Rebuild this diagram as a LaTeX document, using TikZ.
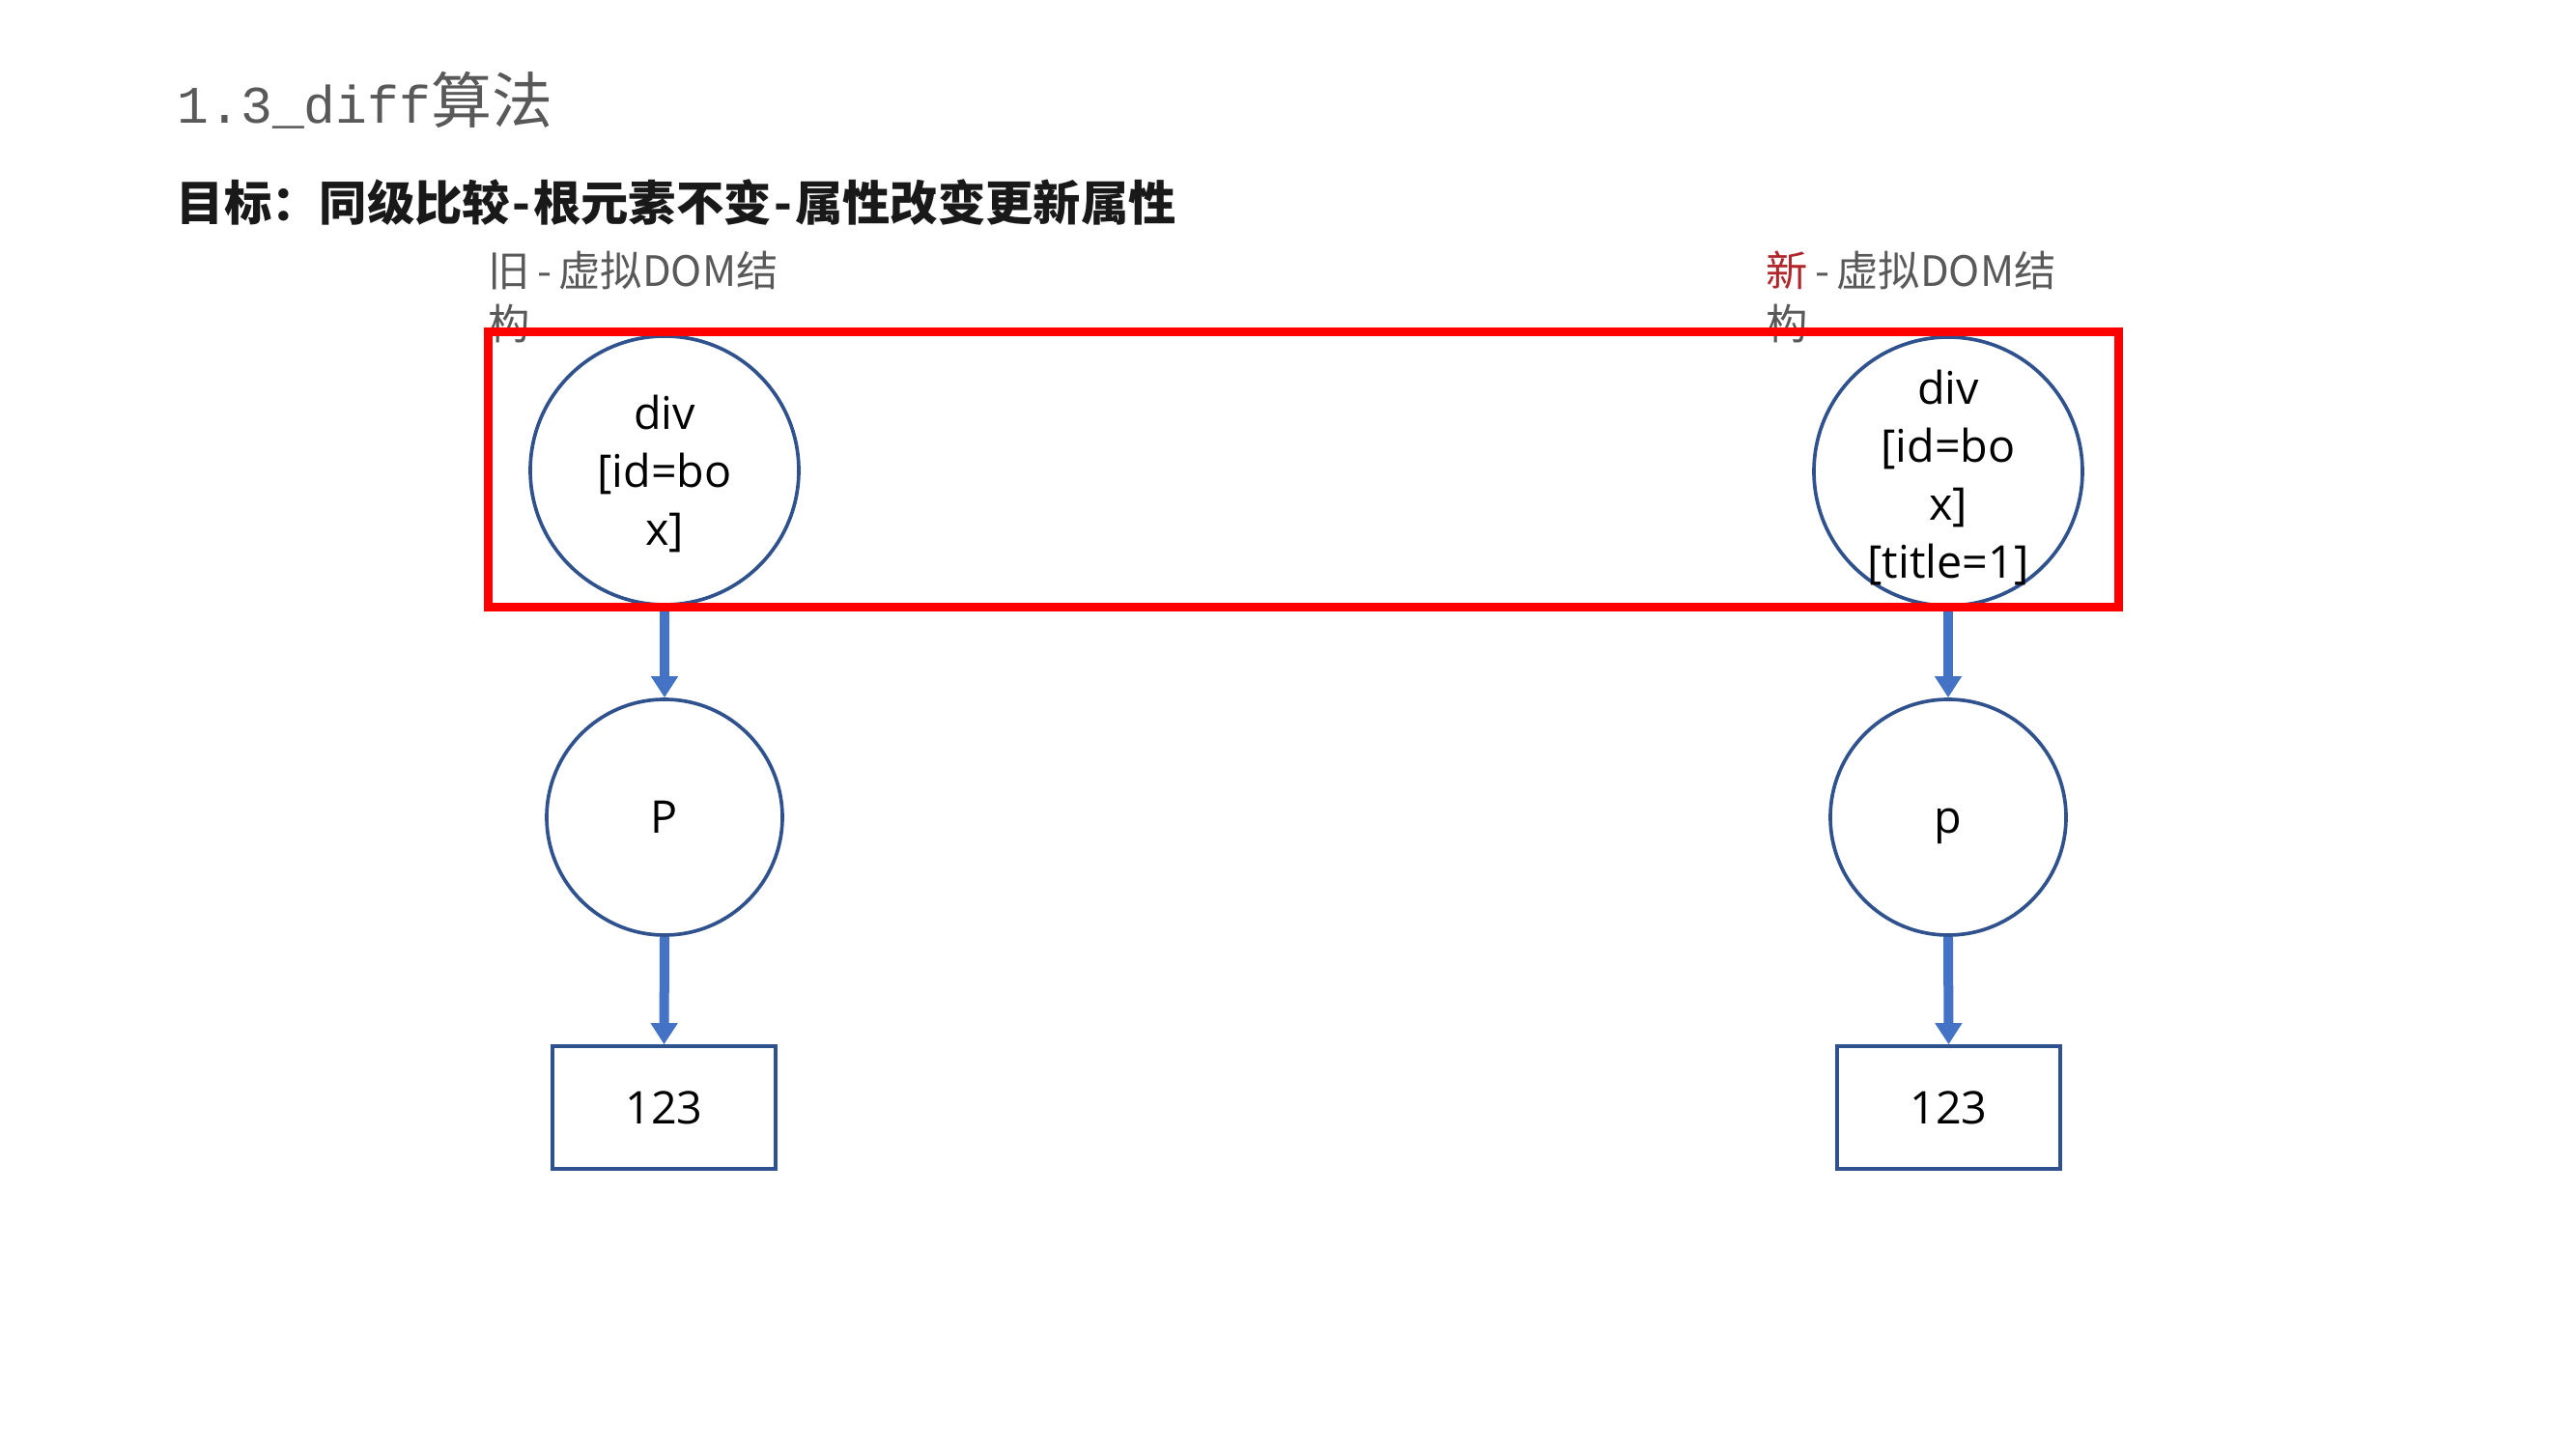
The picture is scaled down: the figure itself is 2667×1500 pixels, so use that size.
\documentclass[tikz,border=0pt]{standalone}
\usepackage{fontspec}
\usetikzlibrary{arrows.meta}
\newfontfamily\cjk{Noto Sans CJK SC}
\newfontfamily\latf{Open Sans}
\newfontfamily\monof{Liberation Mono}
\definecolor{outl}{HTML}{2F528F}
\definecolor{arr}{HTML}{4472C4}
\definecolor{gr}{HTML}{595959}
\definecolor{dred}{HTML}{B0262B}
\begin{document}
\begin{tikzpicture}[x=0.3pt,y=-0.3pt,
  circ/.style={circle, draw=outl, line width=1.1pt, inner sep=0pt, fill=white,
    text depth=0pt, text height=10pt, font=\latf\fontsize{14}{18}\selectfont},
  boxn/.style={rectangle, draw=outl, line width=1.1pt, minimum width=69.3pt,
    minimum height=38.1pt, inner sep=0pt, text depth=0pt, text height=10pt,
    font=\latf\fontsize{14}{18}\selectfont},
  txt/.style={align=center, inner sep=0pt, font=\latf\fontsize{14}{18}\selectfont},
  conn/.style={draw=arr, line width=3pt, -{Triangle[width=8pt,length=6.6pt]}},
  lbl/.style={align=left, inner sep=0pt, text=gr,
    font=\cjk\fontsize{13}{16.5}\selectfont, anchor=north west},
  hlbox/.style={draw=red, line width=2.7pt, inner sep=0pt},
]
\useasboundingbox[fill=white] (0,0) rectangle (2667,1500);

% title and subtitle
\node[anchor=base west, inner sep=0pt, text=gr] (title) at (183,128)
  {{\monof\fontsize{16.4}{20}\selectfont 1.3\_diff}{\cjk\fontsize{18.9}{22}\selectfont 算法}};
\node[anchor=base west, inner sep=0pt, text=black!90,
  font=\cjk\bfseries\fontsize{14.8}{18}\selectfont] (sub) at (182,229)
  {目标：同级比较\kern0.8pt-\kern0.8pt根元素不变\kern0.8pt-\kern0.8pt属性改变更新属性};

% labels
\node[lbl] (lold) at (505,259) {旧\,-\,虚拟DOM结\\构};
\node[lbl] (lnew) at (1828,259) {\textcolor{dred}{新}\,-\,虚拟DOM结\\构};

% old tree
\node[circ, minimum size=83.4pt] (d1) at (688,487) {};
\node[txt] (t1) at (688,490) {div\\{[}id=bo\\x]};
\node[circ, minimum size=73.2pt] (p1) at (688,846) {P};
\node[boxn] (b1) at (687.5,1146.5) {123};

% new tree
\node[circ, minimum size=83.4pt] (d2) at (2017,488) {};
\node[txt] (t2) at (2017,494) {div\\{[}id=bo\\x]\\{[}title=1]};
\node[circ, minimum size=73.2pt] (p2) at (2017,846) {p};
\node[boxn] (b2) at (2017.5,1146.5) {123};

% connectors
\draw[conn] (d1.south) -- (p1.north);
\draw[conn] (p1.south) -- (b1.north);
\draw[conn] (d2.south) -- (p2.north);
\draw[conn] (p2.south) -- (b2.north);

% highlight frame
\node[hlbox, minimum width=506.4pt, minimum height=85.5pt] (hl) at (1349,486.5) {};
\end{tikzpicture}
\end{document}
